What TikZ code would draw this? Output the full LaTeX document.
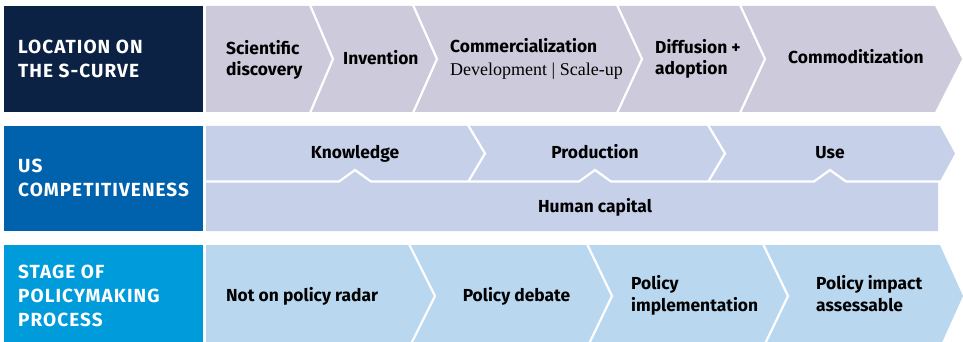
\documentclass[tikz,border=0pt]{standalone}
\usepackage{fontspec}
\setmainfont{Fira Sans}
\newfontfamily\serifx{Liberation Serif}
\definecolor{navyA}{RGB}{12,34,68}
\definecolor{blueB}{RGB}{0,98,173}
\definecolor{cyanC}{RGB}{0,155,219}
\definecolor{grayA}{RGB}{205,203,219}
\definecolor{lightB}{RGB}{198,209,233}
\definecolor{lightC}{RGB}{185,216,240}
\tikzset{
  lab/.style={font=\fontsize{17.4}{21.5}\selectfont\bfseries, text=black, inner sep=0pt, align=left},
  head/.style={font=\fontsize{19}{24}\selectfont\bfseries\addfontfeatures{LetterSpace=5.5}, text=white, inner sep=0pt, align=left},
  sub/.style={font=\fontsize{18}{22}\selectfont\serifx, text=black, inner sep=0pt},
  gap/.style={draw=white, line width=2.2pt, line join=miter},
}
\begin{document}
\begin{tikzpicture}[x=1pt,y=-1pt]
\useasboundingbox (0,0) rectangle (963,342);
\clip (0,0) rectangle (963,342);
% Row 1
\fill[navyA] (4,6) rectangle (203,112);
\fill[grayA] (206,6) -- (935,6) -- (962,59) -- (935,112) -- (206,112) -- cycle;
\draw[gap] (310,5) -- (333,59) -- (310,113);
\draw[gap] (413,5) -- (437,59) -- (413,113);
\draw[gap] (617,5) -- (642,59) -- (617,113);
\draw[gap] (740,5) -- (765,59) -- (740,113);
% Row 2
\fill[blueB] (4,126) rectangle (203,231);
\fill[lightB] (206,126) -- (940,126) -- (955,153.5) -- (940,181) -- (938,181) -- (938,231) -- (206,231) -- cycle;
\draw[gap] (468,125) -- (485,153.5) -- (468,182);
\draw[gap] (708,125) -- (725,153.5) -- (708,182);
\draw[gap] (206,181.5) -- (339,181.5) -- (355,170) -- (371,181.5) -- (579,181.5) -- (595,170) -- (611,181.5)
  -- (814,181.5) -- (830,170) -- (846,181.5) -- (942,181.5);
% Row 3
\fill[cyanC] (4,245) rectangle (203,347);
\fill[lightC] (206,245) -- (940,245) -- (963,296) -- (940,347) -- (206,347) -- cycle;
\draw[gap] (409,244) -- (435,296) -- (409,348);
\draw[gap] (587,244) -- (612,296) -- (587,348);
\draw[gap] (763,244) -- (788,296) -- (763,348);
% Headings
\node[head, anchor=west] (h1) at (18,58.5) {LOCATION ON\\THE S-CURVE};
\node[head, anchor=west] (h2) at (18,178) {US\\COMPETITIVENESS};
\node[head, anchor=west] (h3) at (18,295.5) {STAGE OF\\POLICYMAKING\\PROCESS};
% Row 1 labels
\node[lab, anchor=base west] (sci) at (226,76) {Scientific\\discovery};
\node[lab, anchor=base west] (inv) at (343,65) {Invention};
\node[lab, anchor=base west] (com) at (450,53) {Commercialization};
\node[sub, anchor=base west] (dev) at (450,76) {Development | Scale-up};
\node[lab, anchor=base west] (dif) at (655,75) {Diffusion +\\adoption};
\node[lab, anchor=base west] (cmd) at (788,64) {Commoditization};
% Row 2 labels
\node[lab, anchor=base] (kno) at (355,158) {Knowledge};
\node[lab, anchor=base] (pro) at (595,158) {Production};
\node[lab, anchor=base] (use) at (830,158) {Use};
\node[lab, anchor=base] (hum) at (595,212) {Human capital};
% Row 3 labels
\node[lab, anchor=base west] (nop) at (226,301) {Not on policy radar};
\node[lab, anchor=base] (deb) at (516.5,301) {Policy debate};
\node[lab, anchor=base west] (imp) at (631,311) {Policy\\implementation};
\node[lab, anchor=base west] (ass) at (816,311) {Policy impact\\assessable};
\end{tikzpicture}
\end{document}
